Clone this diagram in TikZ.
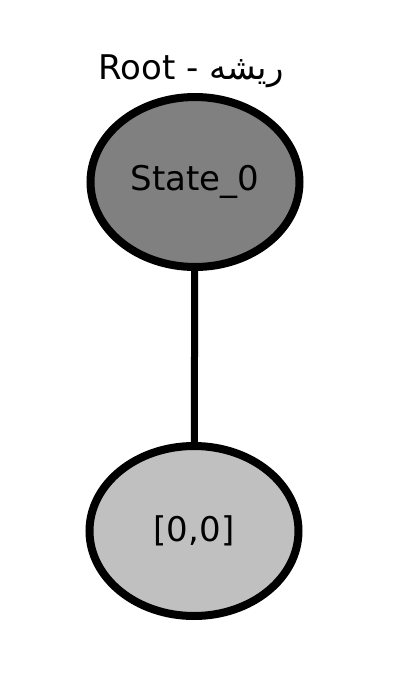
\documentclass[tikz,border=0pt]{standalone}
\usepackage{fontspec}
\usepackage{xcolor}
\usepackage{tikz}
\usetikzlibrary{shapes.geometric}
\setmainfont{DejaVu Sans}
\newfontfamily\arabicfont[Script=Arabic]{DejaVu Sans}
\TeXXeTstate=1

\definecolor{rootgray}{HTML}{808080}
\definecolor{leafgray}{HTML}{C0C0C0}

\begin{document}
\begin{tikzpicture}[x=1pt,y=-1pt]
    \useasboundingbox (0,0) rectangle (402,697);
    \tikzset{state/.style={shape=ellipse,draw=black,line width=8pt,minimum width=209pt,minimum height=170pt,font=\fontsize{34}{38}\selectfont}}

    \node[state,fill=rootgray] (s0) at (195,182) {State\_0};
    \node[state,fill=leafgray] (leaf) at (194,531) {[0,0]};
    \node[font=\fontsize{34}{38}\selectfont] (rootlabel) at (191,71) {Root - {\arabicfont\beginR ریشه\endR}};

    \path[line width=7pt] (s0) edge (leaf);
\end{tikzpicture}
\end{document}
